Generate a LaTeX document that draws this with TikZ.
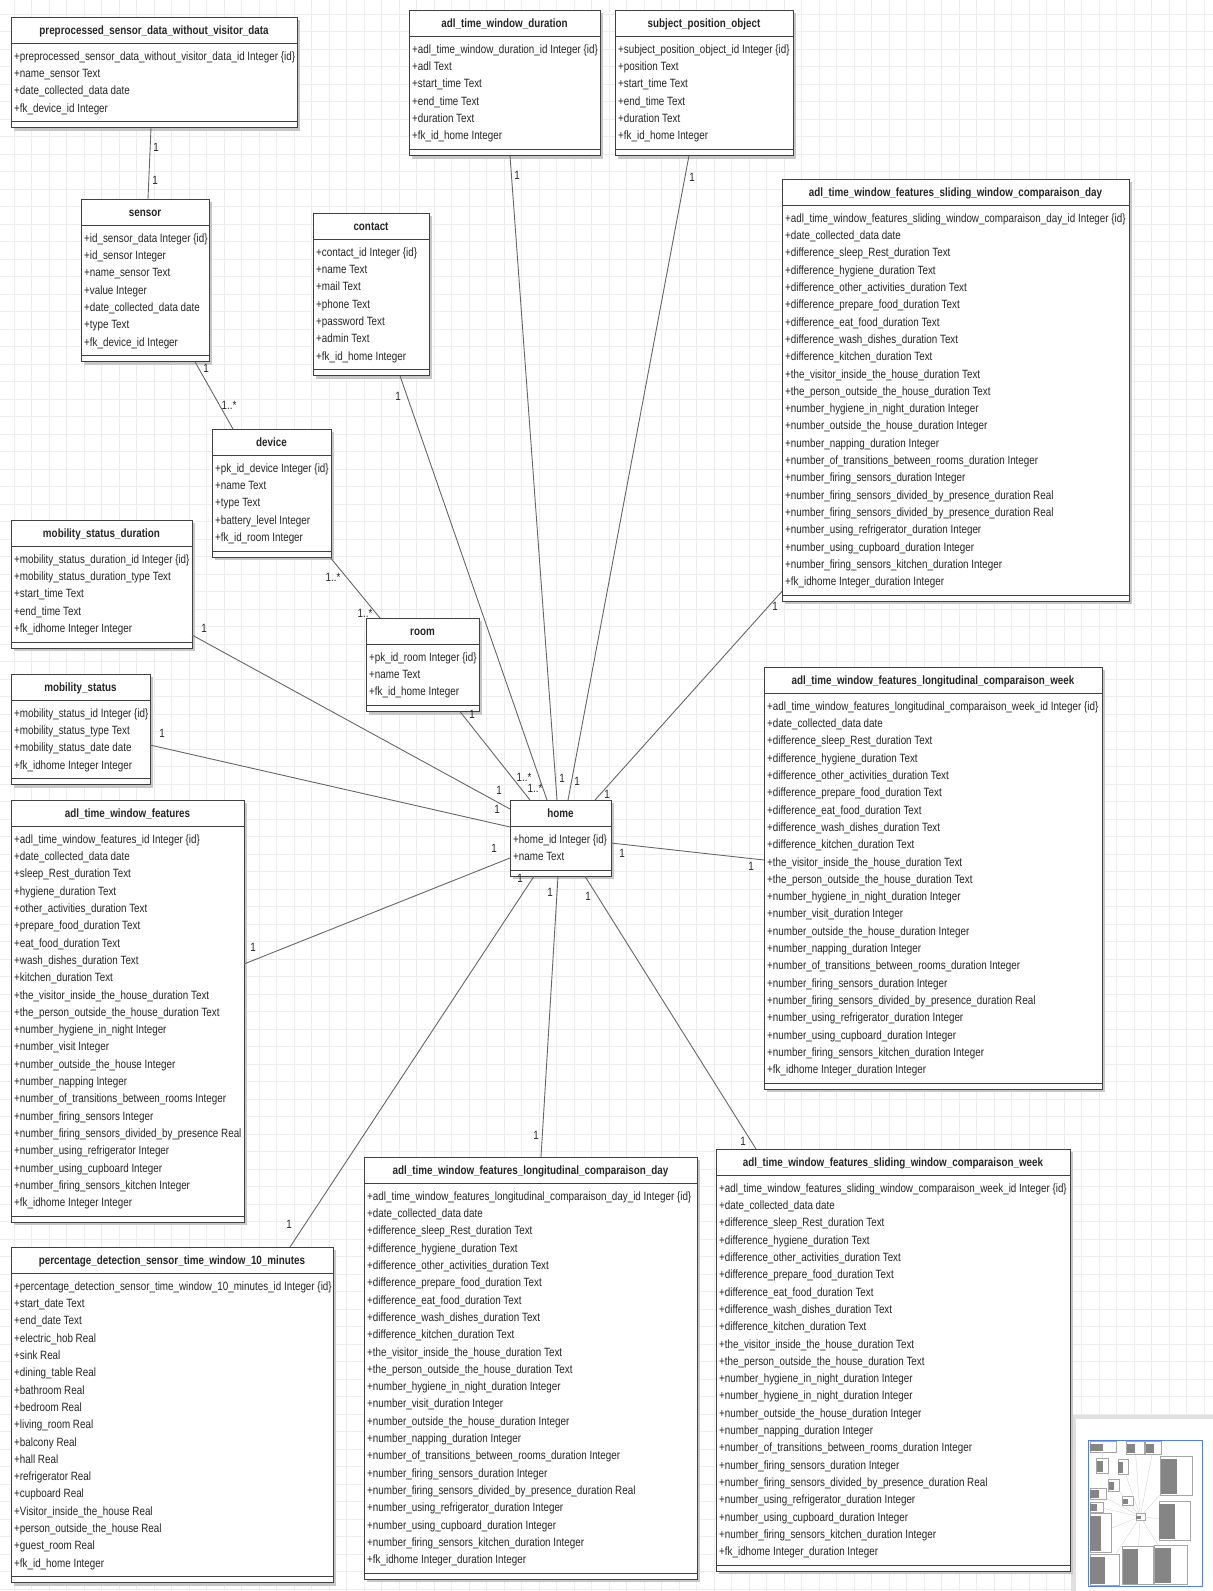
\documentclass[tikz,border=0pt]{standalone}
\usepackage{fontspec}
\setmainfont{Liberation Sans}[FakeStretch=0.82]
\usetikzlibrary{calc}
\definecolor{viewblue}{RGB}{80,125,230}
\tikzset{
  classbox/.style={draw=black!75, fill=white, line width=0.9pt, inner sep=0pt, outer sep=0pt, rectangle},
  sepline/.style={draw=black!75, line width=0.9pt},
  shadowfill/.style={fill=black!22},
  rowtext/.style={anchor=base west, inner sep=0pt, text=black!85, font=\fontsize{12}{14}\selectfont},
  titletext/.style={anchor=base, inner sep=0pt, text=black!85, font=\fontsize{12}{14}\selectfont\bfseries},
  mult/.style={inner sep=0pt, text=black!85, font=\fontsize{12}{14}\selectfont},
  conn/.style={draw=black!60, line width=0.9pt},
  gridline/.style={draw=black!7, line width=0.6pt},
  thumbbox/.style={draw=black!35, fill=white, line width=0.2pt},
  thumbtext/.style={fill=black!48},
  thumbline/.style={draw=black!22, line width=0.25pt},
}
\newcommand\umlclass[7]{%
  \pgfmathsetmacro\umlh{41.7+17.3*#5}%
  \fill[shadowfill] (#2+3,#3+3) rectangle ++(#4,\umlh);
  \node[classbox, minimum width=#4, minimum height=\umlh, anchor=north west] (#1) at (#2,#3) {};
  \node[titletext] (#1-title) at ($(#1.north west)+({#4/2},17.3)$) {#6};
  \draw[sepline] ($(#1.north west)+(0,26)$) -- ($(#1.north east)+(0,26)$);
  \draw[sepline] ($(#1.south west)+(0,-6)$) -- ($(#1.south east)+(0,-6)$);
  \foreach \r [count=\k from 0] in {#7} {\node[rowtext] (#1-r\k) at ($(#1.north west)+(3,{43.3+17.3*\k})$) {\r};}
  \path[thumbbox] ({1089+0.0915*#2},{1440+0.0915*#3}) rectangle ++({0.0915*#4},{0.0915*\umlh});
  \path[thumbtext] ({1089+0.0915*(#2+3)},{1440+0.0915*(#3+30)}) rectangle ++({0.0915*#4*0.5},{0.0915*(\umlh-40)});
}
\newcommand\conn[2]{%
  \draw[conn] (#1) -- (#2);
  \draw[thumbline] ($(1089,1440)+0.0915*(#1)$) -- ($(1089,1440)+0.0915*(#2)$);
}
\begin{document}
\catcode`\_=12
\begin{tikzpicture}[x=1pt, y=-1pt]
\useasboundingbox (0,0) rectangle (1213,1591);
\fill[white] (0,0) rectangle (1213,1591);
\foreach \i in {0,...,68} {\draw[gridline] ({14+17.5*\i},0) -- ({14+17.5*\i},1591);}
\foreach \j in {0,...,90} {\draw[gridline] (0,{14+17.5*\j}) -- (1213,{14+17.5*\j});}

% minimap panel
\fill[black!12] (1071,1415) rectangle (1213,1591);
\fill[white] (1076,1419) rectangle (1213,1591);
\draw[viewblue, line width=0.8pt] (1088,1440) rectangle (1202,1586);

\umlclass{pre}{11}{17}{286}{4}{preprocessed_sensor_data_without_visitor_data}{
+preprocessed_sensor_data_without_visitor_data_id Integer \{id\},
+name_sensor Text,
+date_collected_data date,
+fk_device_id Integer}

\umlclass{awd}{409}{10}{191}{6}{adl_time_window_duration}{
+adl_time_window_duration_id Integer \{id\},
+adl Text,
+start_time Text,
+end_time Text,
+duration Text,
+fk_id_home Integer}

\umlclass{spo}{615}{10}{178}{6}{subject_position_object}{
+subject_position_object_id Integer \{id\},
+position Text,
+start_time Text,
+end_time Text,
+duration Text,
+fk_id_home Integer}

\umlclass{sensor}{81}{199}{128}{7}{sensor}{
+id_sensor_data Integer \{id\},
+id_sensor Integer,
+name_sensor Text,
+value Integer,
+date_collected_data date,
+type Text,
+fk_device_id Integer}

\umlclass{contact}{313}{213}{116}{7}{contact}{
+contact_id Integer \{id\},
+name Text,
+mail Text,
+phone Text,
+password Text,
+admin Text,
+fk_id_home Integer}

\umlclass{device}{212}{429}{119}{5}{device}{
+pk_id_device Integer \{id\},
+name Text,
+type Text,
+battery_level Integer,
+fk_id_room Integer}

\umlclass{msd}{11}{520}{181}{5}{mobility_status_duration}{
+mobility_status_duration_id Integer \{id\},
+mobility_status_duration_type Text,
+start_time Text,
+end_time Text,
+fk_idhome Integer Integer}

\umlclass{room}{366}{618}{113}{3}{room}{
+pk_id_room Integer \{id\},
+name Text,
+fk_id_home Integer}

\umlclass{ms}{11}{674}{139}{4}{mobility_status}{
+mobility_status_id Integer \{id\},
+mobility_status_type Text,
+mobility_status_date date,
+fk_idhome Integer Integer}

\umlclass{home}{510}{800}{101}{2}{home}{
+home_id Integer \{id\},
+name Text}

\umlclass{atwf}{11}{800}{233}{22}{adl_time_window_features}{
+adl_time_window_features_id Integer \{id\},
+date_collected_data date,
+sleep_Rest_duration Text,
+hygiene_duration Text,
+other_activities_duration Text,
+prepare_food_duration Text,
+eat_food_duration Text,
+wash_dishes_duration Text,
+kitchen_duration Text,
+the_visitor_inside_the_house_duration Text,
+the_person_outside_the_house_duration Text,
+number_hygiene_in_night Integer,
+number_visit Integer,
+number_outside_the_house Integer,
+number_napping Integer,
+number_of_transitions_between_rooms Integer,
+number_firing_sensors Integer,
+number_firing_sensors_divided_by_presence Real,
+number_using_refrigerator Integer,
+number_using_cupboard Integer,
+number_firing_sensors_kitchen Integer,
+fk_idhome Integer Integer}

\umlclass{swd}{782}{179}{347}{22}{adl_time_window_features_sliding_window_comparaison_day}{
+adl_time_window_features_sliding_window_comparaison_day_id Integer \{id\},
+date_collected_data date,
+difference_sleep_Rest_duration Text,
+difference_hygiene_duration Text,
+difference_other_activities_duration Text,
+difference_prepare_food_duration Text,
+difference_eat_food_duration Text,
+difference_wash_dishes_duration Text,
+difference_kitchen_duration Text,
+the_visitor_inside_the_house_duration Text,
+the_person_outside_the_house_duration Text,
+number_hygiene_in_night_duration Integer,
+number_outside_the_house_duration Integer,
+number_napping_duration Integer,
+number_of_transitions_between_rooms_duration Integer,
+number_firing_sensors_duration Integer,
+number_firing_sensors_divided_by_presence_duration Real,
+number_firing_sensors_divided_by_presence_duration Real,
+number_using_refrigerator_duration Integer,
+number_using_cupboard_duration Integer,
+number_firing_sensors_kitchen_duration Integer,
+fk_idhome Integer_duration Integer}

\umlclass{lcw}{764}{667}{338}{22}{adl_time_window_features_longitudinal_comparaison_week}{
+adl_time_window_features_longitudinal_comparaison_week_id Integer \{id\},
+date_collected_data date,
+difference_sleep_Rest_duration Text,
+difference_hygiene_duration Text,
+difference_other_activities_duration Text,
+difference_prepare_food_duration Text,
+difference_eat_food_duration Text,
+difference_wash_dishes_duration Text,
+difference_kitchen_duration Text,
+the_visitor_inside_the_house_duration Text,
+the_person_outside_the_house_duration Text,
+number_hygiene_in_night_duration Integer,
+number_visit_duration Integer,
+number_outside_the_house_duration Integer,
+number_napping_duration Integer,
+number_of_transitions_between_rooms_duration Integer,
+number_firing_sensors_duration Integer,
+number_firing_sensors_divided_by_presence_duration Real,
+number_using_refrigerator_duration Integer,
+number_using_cupboard_duration Integer,
+number_firing_sensors_kitchen_duration Integer,
+fk_idhome Integer_duration Integer}

\umlclass{pct}{11}{1247}{322}{17}{percentage_detection_sensor_time_window_10_minutes}{
+percentage_detection_sensor_time_window_10_minutes_id Integer \{id\},
+start_date Text,
+end_date Text,
+electric_hob Real,
+sink Real,
+dining_table Real,
+bathroom Real,
+bedroom Real,
+living_room Real,
+balcony Real,
+hall Real,
+refrigerator Real,
+cupboard Real,
+Visitor_inside_the_house Real,
+person_outside_the_house Real,
+guest_room Real,
+fk_id_home Integer}

\umlclass{lcd}{364}{1157}{333}{22}{adl_time_window_features_longitudinal_comparaison_day}{
+adl_time_window_features_longitudinal_comparaison_day_id Integer \{id\},
+date_collected_data date,
+difference_sleep_Rest_duration Text,
+difference_hygiene_duration Text,
+difference_other_activities_duration Text,
+difference_prepare_food_duration Text,
+difference_eat_food_duration Text,
+difference_wash_dishes_duration Text,
+difference_kitchen_duration Text,
+the_visitor_inside_the_house_duration Text,
+the_person_outside_the_house_duration Text,
+number_hygiene_in_night_duration Integer,
+number_visit_duration Integer,
+number_outside_the_house_duration Integer,
+number_napping_duration Integer,
+number_of_transitions_between_rooms_duration Integer,
+number_firing_sensors_duration Integer,
+number_firing_sensors_divided_by_presence_duration Real,
+number_using_refrigerator_duration Integer,
+number_using_cupboard_duration Integer,
+number_firing_sensors_kitchen_duration Integer,
+fk_idhome Integer_duration Integer}

\umlclass{sww}{716}{1149}{354}{22}{adl_time_window_features_sliding_window_comparaison_week}{
+adl_time_window_features_sliding_window_comparaison_week_id Integer \{id\},
+date_collected_data date,
+difference_sleep_Rest_duration Text,
+difference_hygiene_duration Text,
+difference_other_activities_duration Text,
+difference_prepare_food_duration Text,
+difference_eat_food_duration Text,
+difference_wash_dishes_duration Text,
+difference_kitchen_duration Text,
+the_visitor_inside_the_house_duration Text,
+the_person_outside_the_house_duration Text,
+number_hygiene_in_night_duration Integer,
+number_hygiene_in_night_duration Integer,
+number_outside_the_house_duration Integer,
+number_napping_duration Integer,
+number_of_transitions_between_rooms_duration Integer,
+number_firing_sensors_duration Integer,
+number_firing_sensors_divided_by_presence_duration Real,
+number_using_refrigerator_duration Integer,
+number_using_cupboard_duration Integer,
+number_firing_sensors_kitchen_duration Integer,
+fk_idhome Integer_duration Integer}

% connector end points
\coordinate (c1a) at ($(pre.south west)+(140,0)$);
\coordinate (c1b) at ($(sensor.north west)+(67,0)$);
\coordinate (c2a) at ($(sensor.south west)+(114,0)$);
\coordinate (c2b) at ($(device.north west)+(21,0)$);
\coordinate (c3a) at ($(device.south east)+(-1,0)$);
\coordinate (c3b) at ($(room.north west)+(14,0)$);
\coordinate (c4a) at ($(contact.south west)+(87,0)$);
\coordinate (c4b) at ($(home.north west)+(37,0)$);
\coordinate (c5a) at ($(awd.south west)+(101,0)$);
\coordinate (c5b) at ($(home.north west)+(47,0)$);
\coordinate (c6a) at ($(spo.south west)+(74,0)$);
\coordinate (c6b) at ($(home.north west)+(58,0)$);
\coordinate (c7a) at ($(swd.south west)+(0,-10)$);
\coordinate (c7b) at ($(home.north west)+(85,0)$);
\coordinate (c8a) at ($(room.south west)+(94,0)$);
\coordinate (c8b) at ($(home.north west)+(20,0)$);
\coordinate (c9a) at ($(msd.north east)+(0,115)$);
\coordinate (c9b) at ($(home.north west)+(0,9)$);
\coordinate (c10a) at ($(ms.north east)+(0,71)$);
\coordinate (c10b) at ($(home.north west)+(0,27)$);
\coordinate (c11a) at ($(atwf.north east)+(0,164)$);
\coordinate (c11b) at ($(home.north west)+(0,58)$);
\coordinate (c12a) at ($(home.south west)+(24,0)$);
\coordinate (c12b) at ($(pct.north west)+(279,0)$);
\coordinate (c13a) at ($(home.south west)+(48,0)$);
\coordinate (c13b) at ($(lcd.north west)+(177,0)$);
\coordinate (c14a) at ($(home.south west)+(75,0)$);
\coordinate (c14b) at ($(sww.north west)+(40,0)$);
\coordinate (c15a) at ($(home.north east)+(0,43)$);
\coordinate (c15b) at ($(lcw.north west)+(0,193)$);

\conn{c1a}{c1b}
\conn{c2a}{c2b}
\conn{c3a}{c3b}
\conn{c4a}{c4b}
\conn{c5a}{c5b}
\conn{c6a}{c6b}
\conn{c7a}{c7b}
\conn{c8a}{c8b}
\conn{c9a}{c9b}
\conn{c10a}{c10b}
\conn{c11a}{c11b}
\conn{c12a}{c12b}
\conn{c13a}{c13b}
\conn{c14a}{c14b}
\conn{c15a}{c15b}

% multiplicities
\node[mult] (m1) at (156,147) {1};
\node[mult] (m2) at (155,180) {1};
\node[mult] (m3) at (206,368) {1};
\node[mult] (m4) at (229,405) {1..*};
\node[mult] (m5) at (333,577) {1..*};
\node[mult] (m6) at (365,613) {1..*};
\node[mult] (m7) at (398,396) {1};
\node[mult] (m8) at (517,175) {1};
\node[mult] (m9) at (692,177) {1};
\node[mult] (m10) at (775,606) {1};
\node[mult] (m11) at (204,628) {1};
\node[mult] (m12) at (162,733) {1};
\node[mult] (m13) at (472,714) {1};
\node[mult] (m14) at (253,947) {1};
\node[mult] (m15) at (289,1224) {1};
\node[mult] (m16) at (536,1135) {1};
\node[mult] (m17) at (743,1141) {1};
\node[mult] (m18) at (751,866) {1};
\node[mult] (m19) at (524,777) {1..*};
\node[mult] (m20) at (535,788) {1..*};
\node[mult] (m21) at (562,778) {1};
\node[mult] (m22) at (577,781) {1};
\node[mult] (m23) at (607,794) {1};
\node[mult] (m24) at (499,790) {1};
\node[mult] (m25) at (497,809) {1};
\node[mult] (m26) at (494,848) {1};
\node[mult] (m27) at (520,878) {1};
\node[mult] (m28) at (550,892) {1};
\node[mult] (m29) at (588,896) {1};
\node[mult] (m30) at (622,853) {1};
\end{tikzpicture}
\end{document}
